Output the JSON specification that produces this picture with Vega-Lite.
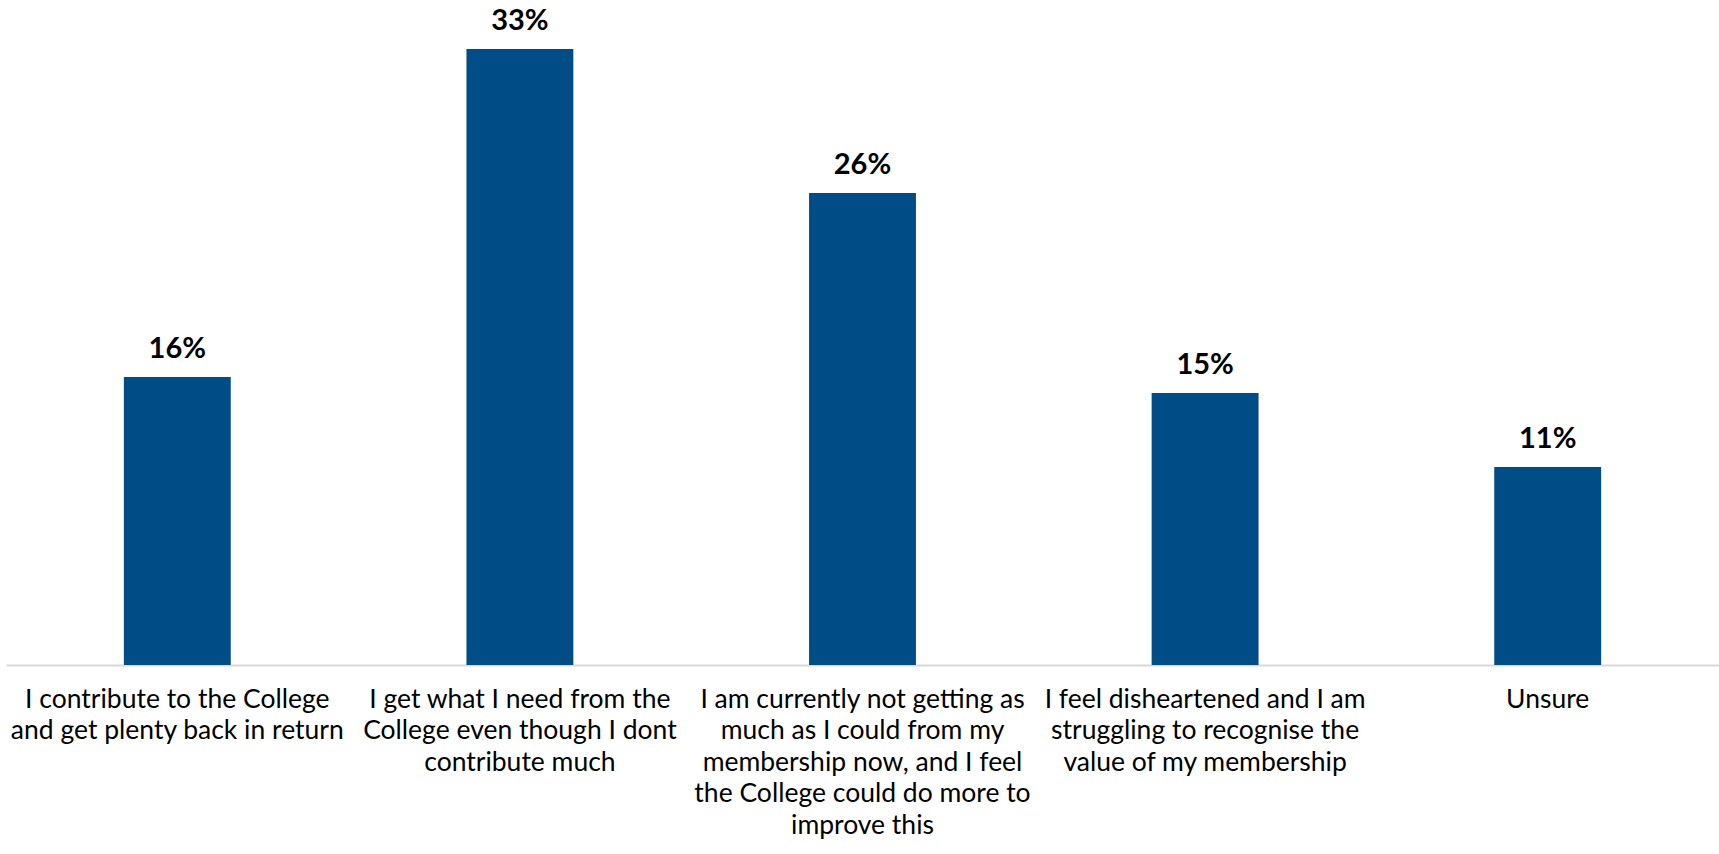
{
  "$schema": "https://vega.github.io/schema/vega-lite/v6.json",
  "width": 1713,
  "height": 665,
  "padding": {"left": 6, "top": 0, "right": 0, "bottom": 0},
  "background": "white",
  "config": {"view": {"stroke": null}, "font": "Lato"},
  "data": {
    "values": [
      {"category": "I contribute to the College|and get plenty back in return", "share": 0.1559},
      {"category": "I get what I need from the|College even though I dont|contribute much", "share": 0.3335},
      {"category": "I am currently not getting as|much as I could from my|membership now, and I feel|the College could do more to|improve this", "share": 0.2555},
      {"category": "I feel disheartened and I am|struggling to recognise the|value of my membership", "share": 0.1472},
      {"category": "Unsure", "share": 0.1072}
    ]
  },
  "encoding": {
    "x": {
      "field": "category",
      "type": "nominal",
      "sort": null,
      "scale": {"paddingInner": 0.688, "paddingOuter": 0.344},
      "axis": {
        "title": null,
        "labelAngle": 0,
        "labelExpr": "split(datum.label, '|')",
        "labelFont": "Lato",
        "labelFontSize": 26.5,
        "labelColor": "#000000",
        "labelLineHeight": 31.5,
        "labelPadding": 21,
        "labelLimit": 0,
        "labelBaseline": "top",
        "ticks": false,
        "domainColor": "#D9D9D9",
        "domainWidth": 2
      }
    },
    "y": {
      "field": "share",
      "type": "quantitative",
      "scale": {"domain": [0, 0.36], "nice": false},
      "axis": null
    }
  },
  "layer": [
    {"mark": {"type": "bar", "color": "#004C87"}},
    {
      "mark": {"type": "text", "baseline": "alphabetic", "dy": -19, "font": "Lato", "fontSize": 29, "fontWeight": "bold", "color": "#000000"},
      "encoding": {"text": {"field": "share", "type": "quantitative", "format": ".0%"}}
    }
  ]
}
